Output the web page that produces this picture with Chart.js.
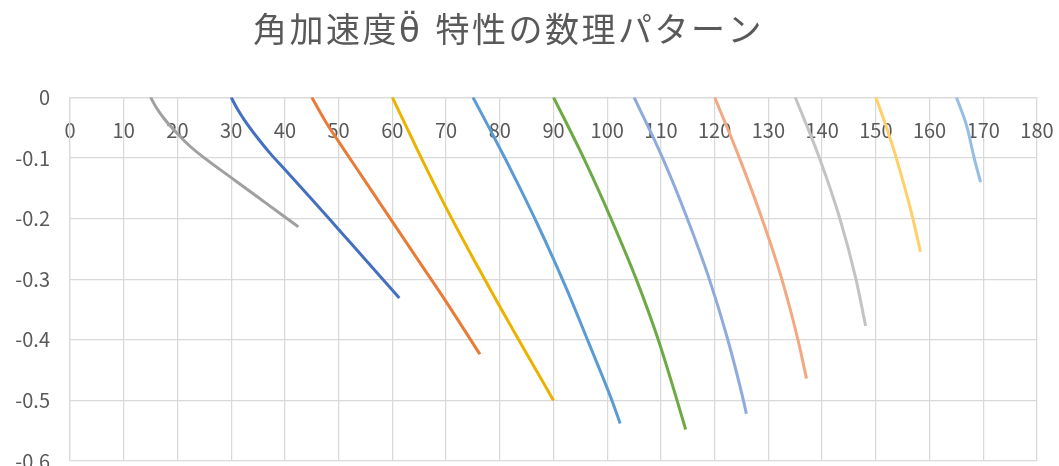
<!DOCTYPE html>
<html lang="ja">
<head>
<meta charset="utf-8">
<title>角加速度θ̈ 特性の数理パターン</title>
<script src="https://cdn.jsdelivr.net/npm/chart.js@4.4.1/dist/chart.umd.min.js"></script>
<style>
  html, body { margin: 0; padding: 0; background: #fff; }
</style>
</head>
<body>
<canvas id="chart" width="1059" height="466"></canvas>
<script>
// Title and ticks
const chartTitle = "角加速度θ̈ 特性の数理パターン";
const xTicks = [0, 10, 20, 30, 40, 50, 60, 70, 80, 90, 100, 110, 120, 130, 140, 150, 160, 170, 180];
const yTicks = [0, -0.1, -0.2, -0.3, -0.4, -0.5, -0.6];

// Each curve starts at 0 on its own start angle (15, 30, ... 165)
const x15 = [15, 16, 17.5, 20, 22.5, 25, 30, 35, 40, 42.5];
const y15 = [0, -0.016, -0.035, -0.06, -0.082, -0.1, -0.1325, -0.165, -0.1975, -0.2137];

const x30 = [30, 31, 32.5, 35, 37.5, 40, 45, 50, 55, 61.3];
const y30 = [0, -0.017, -0.038, -0.068, -0.095, -0.119, -0.168, -0.218, -0.268, -0.331];

const x45 = [45, 47.5, 50, 55, 60, 65, 70, 76.3];
const y45 = [0, -0.039, -0.073, -0.139, -0.205, -0.271, -0.337, -0.424];

const x60 = [60, 65, 70, 75, 80, 85, 90];
const y60 = [0, -0.093, -0.182, -0.265, -0.345, -0.423, -0.5];

const x75 = [75, 78, 81, 84, 87, 90, 93, 96, 99, 101, 102.4];
const y75 = [0, -0.05, -0.101, -0.154, -0.209, -0.267, -0.328, -0.393, -0.458, -0.503, -0.538];

const x90 = [90, 95.6, 100.7, 105.4, 109.5, 113.0, 114.6];
const y90 = [0, -0.1, -0.2, -0.3, -0.4, -0.5, -0.548];

const x105 = [105, 110.3, 114.9, 119.0, 122.45, 125.35, 125.9];
const y105 = [0, -0.1, -0.2, -0.3, -0.4, -0.5, -0.522];

const x120 = [120, 124.6, 128.8, 132.5, 135.5, 137.1];
const y120 = [0, -0.1, -0.2, -0.3, -0.4, -0.464];

const x135 = [135, 139.5, 143.3, 146.3, 148.1];
const y135 = [0, -0.1, -0.2, -0.3, -0.377];

const x150 = [150, 152, 153.8, 156.9, 158.3];
const y150 = [0, -0.05, -0.1, -0.2, -0.255];

const x165 = [165, 167, 168.3, 169.5];
const y165 = [0, -0.05, -0.1, -0.14];

// series order + colours (Excel palette)
const series = [[x15, y15], [x30, y30], [x45, y45], [x60, y60], [x75, y75], [x90, y90],
  [x105, y105], [x120, y120], [x135, y135], [x150, y150], [x165, y165]];
const colors = ["#A0A0A0", "#4470C2", "#E97B36", "#EBB300", "#5B9BD5", "#6DAA45",
  "#8FAADC", "#F4A882", "#C3C3C3", "#FFCF6A", "#95BDE5"];

const tickFont = { family: "'Noto Sans CJK JP', 'Noto Sans', sans-serif", size: 20 };
const gridColor = "#d9d9d9";

const datasets = series.map(([xs, ys], i) => ({
  data: xs.map((x, j) => ({ x, y: ys[j] })),
  borderColor: colors[i],
  showLine: true
}));

// Excel spreads the title letters a bit and sits it left of centre
const titleSpacing = {
  id: "titleSpacing",
  beforeDraw(chart) {
    const tb = chart.titleBlock;
    if (!tb || tb._spaced) return;
    const draw = tb.draw.bind(tb);
    tb.draw = () => {
      const ctx = chart.ctx;
      ctx.save();
      ctx.letterSpacing = "2.5px";
      ctx.translate(-10, 0);
      draw();
      ctx.restore();
    };
    tb._spaced = true;
  }
};

new Chart(document.getElementById("chart"), {
  type: "scatter",
  data: { datasets },
  plugins: [titleSpacing],
  options: {
    responsive: false,
    animation: false,
    layout: { padding: { top: 0, right: 22, bottom: 5, left: 0 } },
    elements: {
      point: { radius: 0 },
      line: { borderWidth: 3, cubicInterpolationMode: "monotone" }
    },
    plugins: {
      legend: { display: false },
      tooltip: { enabled: false },
      title: {
        display: true,
        text: chartTitle,
        color: "#595959",
        font: { family: "'DejaVu Sans', 'Noto Sans CJK JP', sans-serif", size: 34, weight: "normal" },
        padding: { top: 13, bottom: 43.5 }
      }
    },
    scales: {
      x: {
        type: "linear",
        min: 0,
        max: 180,
        position: { y: 0 },
        afterBuildTicks: s => { s.ticks = xTicks.map(v => ({ value: v })); },
        afterFit: s => { s.paddingLeft = 0; s.paddingRight = 0; },
        grid: { color: gridColor, lineWidth: 1.25, drawTicks: false },
        border: { color: gridColor, width: 1.25 },
        ticks: { padding: 21, color: "#595959", font: tickFont, maxRotation: 0, autoSkip: false }
      },
      y: {
        min: -0.6,
        max: 0,
        afterBuildTicks: s => { s.ticks = yTicks.map(v => ({ value: v })); },
        afterFit: s => { s.width = 70; s.paddingTop = 0; s.paddingBottom = 0; },
        grid: { color: gridColor, lineWidth: 1.25, drawTicks: false },
        border: { color: gridColor, width: 1.25 },
        ticks: {
          padding: 20,
          color: "#595959",
          font: tickFont,
          callback: v => String(Number(v.toFixed(1)))
        }
      }
    }
  }
});
</script>
</body>
</html>
